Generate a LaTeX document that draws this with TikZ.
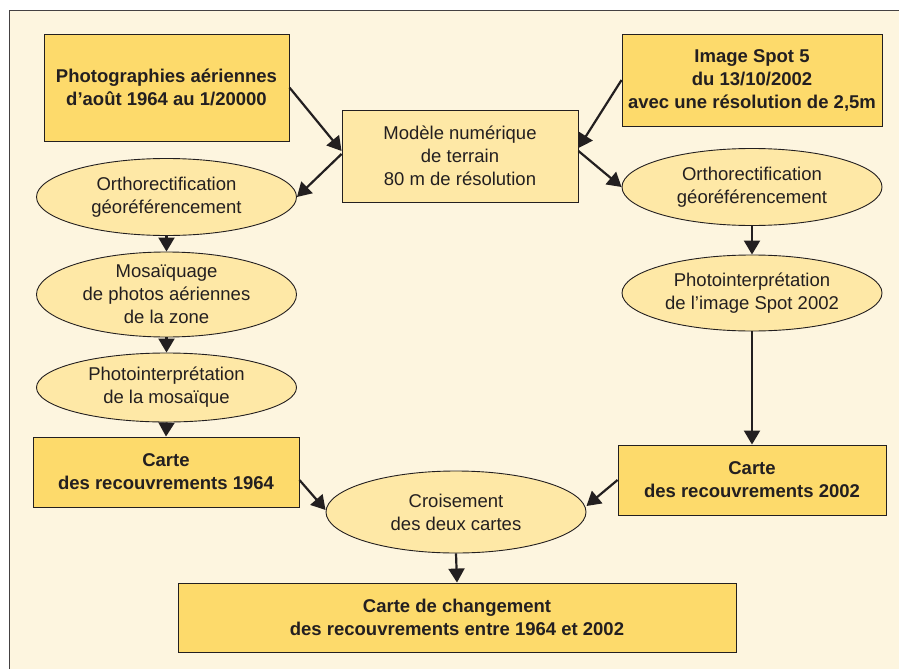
\documentclass[tikz,border=0pt]{standalone}
\usepackage{fontspec}
\setmainfont{Liberation Sans}
\usetikzlibrary{shapes.geometric,arrows.meta,calc}
\definecolor{bgc}{HTML}{FDF5DF}
\definecolor{darky}{HTML}{FDDA6B}
\definecolor{lighty}{HTML}{FEE8A6}
\definecolor{ink}{HTML}{231F20}
\begin{document}
\begin{tikzpicture}[x=1pt,y=-1pt,
  txt/.style={font=\fontsize{18.5}{23}\selectfont, text=ink, align=center},
  boxd/.style={draw=ink, line width=0.9pt, fill=darky, inner sep=0pt, align=center, text=ink, font=\fontsize{18.5}{23}\selectfont\bfseries},
  boxl/.style={draw=ink, line width=0.9pt, fill=lighty, inner sep=0pt, align=center, text=ink, font=\fontsize{18.5}{23}\selectfont},
  ell/.style={ellipse, draw=ink, line width=0.9pt, fill=lighty, inner sep=0pt, minimum width=260pt},
  arr/.style={draw=ink, line width=2.2pt, -{Triangle[length=14pt,width=16pt]}}]
\useasboundingbox (0,0) rectangle (899,669);
\fill[white] (0,0) rectangle (899,669);
\fill[bgc] (9,11) rectangle (899,669);
\draw[line width=1pt, ink!85] (9,669) -- (9,11) -- (899,11);

\node[boxd, minimum width=245pt, minimum height=107pt] (photo) at (166.5,87.5) {Photographies aériennes\\d’août 1964 au 1/20000};
\node[boxl, minimum width=236pt, minimum height=92pt] (modele) at (460,156) {Modèle numérique\\de terrain\\80 m de résolution};
\node[boxd, minimum width=260pt, minimum height=92pt] (spot) at (752,80) {Image Spot 5\\du 13/10/2002\\avec une résolution de 2,5m};

\node[ell, minimum height=77pt, label={[txt]center:Orthorectification\\géoréférencement}] (orthoL) at (166.5,197) {};
\node[ell, minimum height=77pt, label={[txt]center:Orthorectification\\géoréférencement}] (orthoR) at (752,187) {};
\node[ell, minimum height=85pt, label={[txt]center:Mosaïquage\\de photos aériennes\\de la zone}] (mos) at (166.5,294.5) {};
\node[ell, minimum height=69pt, label={[txt]center:Photointerprétation\\de la mosaïque}] (piL) at (166.5,387.5) {};
\node[ell, minimum height=76pt, label={[txt]center:Photointerprétation\\de l’image Spot 2002}] (piR) at (752,293) {};

\node[boxd, minimum width=266pt, minimum height=70pt] (c64) at (166,472) {Carte\\des recouvrements 1964};
\node[boxd, minimum width=268pt, minimum height=70pt] (c02) at (752,480) {Carte\\des recouvrements 2002};
\node[ell, minimum height=82pt, label={[txt]center:Croisement\\des deux cartes}] (crois) at (456,512) {};
\node[boxd, minimum width=558pt, minimum height=69pt] (chg) at (457,617.5) {Carte de changement\\des recouvrements entre 1964 et 2002};

\draw[arr] (photo.east) -- ($(modele.west)+(0,-5)$);
\draw[arr] ($(modele.west)+(0,-2)$) -- (orthoL.east);
\draw[arr] (spot.west) -- ($(modele.east)+(0,-8)$);
\draw[arr] ($(modele.east)+(0,-5)$) -- (orthoR.west);
\draw[arr] (orthoL.south) -- (mos.north);
\draw[arr] (mos.south) -- (piL.north);
\draw[arr] (piL.south) -- (c64.north);
\draw[arr] (orthoR.south) -- (piR.north);
\draw[arr] (piR.south) -- (c02.north);
\draw[arr] ($(c64.east)+(0,8)$) -- ($(crois.west)+(0,-2)$);
\draw[arr] (c02.west) -- ($(crois.east)+(0,-6)$);
\draw[arr] (crois.south) -- (chg.north);
\end{tikzpicture}
\end{document}
